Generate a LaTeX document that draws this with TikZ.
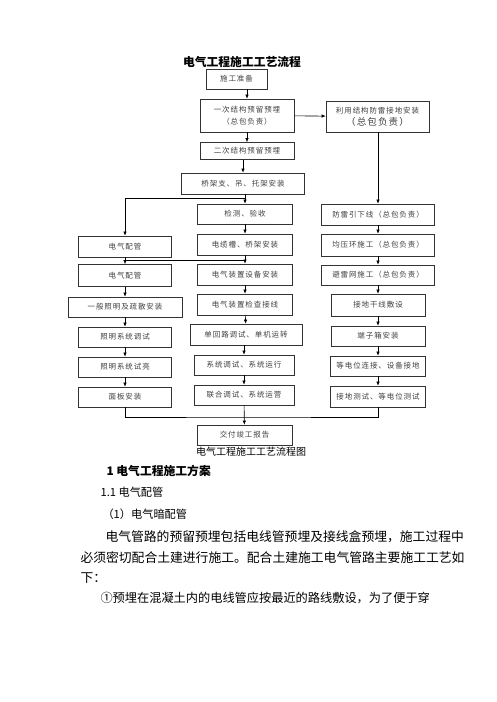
\documentclass[tikz,border=0pt]{standalone}
\usepackage{fontspec}
\setmainfont{Noto Sans CJK SC}
\newfontfamily\boxfont[LetterSpace=12]{Noto Sans CJK SC}
\usetikzlibrary{arrows.meta}
\begin{document}
\begin{tikzpicture}[x=1pt,y=-1pt,
    box/.style={draw=black!80,line width=0.7pt,inner sep=0,minimum height=20pt,align=center,
      text=black!75,font=\boxfont\fontsize{7.5}{12}\selectfont},
    arr/.style={-{Latex[length=4pt,width=3.5pt]},line width=0.6pt}]
    \useasboundingbox (0,0) rectangle (496,702);
    \node[font=\bfseries\fontsize{11.8}{14}\selectfont] (title) at (242,62) {电气工程施工工艺流程};
    % middle column
    \node[box,minimum width=61pt] at (236.5,79) (prep) {施工准备};
    \node[box,minimum width=94pt,minimum height=33pt] at (247,115.5) (pre1) {一次结构预留预埋\\（总包负责）};
    \node[box,minimum width=94pt,minimum height=17pt] at (247,151) (pre2) {二次结构预留预埋};
    \node[box,minimum width=123pt,minimum height=21pt] at (243,183.5) (tray) {桥架支、吊、托架安装};
    \node[box,minimum width=95pt] at (245,214) (check) {检测、验收};
    \node[box,minimum width=95pt,minimum height=21pt] at (245,244.5) (cable) {电缆槽、桥架安装};
    \node[box,minimum width=95pt,minimum height=21pt] at (245,274.5) (dev) {电气装置设备安装};
    \node[box,minimum width=95pt,minimum height=21pt] at (245,304.5) (ins) {电气装置检查接线};
    \node[box,minimum width=112pt,minimum height=21pt] at (246,334.5) (single) {单回路调试、单机运转};
    \node[box,minimum width=100pt] at (244,365) (sys) {系统调试、系统运行};
    \node[box,minimum width=100pt] at (244,395) (joint) {联合调试、系统运营};
    \node[box,minimum width=95pt] at (244.5,435) (deliver) {交付竣工报告};
    % left column
    \node[box,minimum width=93pt,minimum height=21pt] at (125,246.5) (pipe1) {电气配管};
    \node[box,minimum width=93pt,minimum height=22pt] at (125,275.5) (pipe2) {电气配管};
    \node[box,minimum width=114pt] at (125,307) (light) {一般照明及疏散安装};
    \node[box,minimum width=93pt] at (125,337) (ltest) {照明系统调试};
    \node[box,minimum width=93pt] at (125,367) (ltry) {照明系统试亮};
    \node[box,minimum width=93pt] at (125,397) (panel) {面板安装};
    % right column
    \node[box,minimum width=103pt,minimum height=31pt] at (377.5,116.5) (lp) {利用结构防雷接地安装\\{\fontsize{9.5}{12}\selectfont （总包负责）}};
    \node[box,minimum width=113pt,minimum height=21pt] at (378,214.5) (down) {防雷引下线（总包负责）};
    \node[box,minimum width=113pt,minimum height=22pt] at (378,245) (ring) {均压环施工（总包负责）};
    \node[box,minimum width=113pt] at (378,275) (net) {避雷网施工（总包负责）};
    \node[box,minimum width=94pt,minimum height=22pt] at (378,305) (trunk) {接地干线敷设};
    \node[box,minimum width=94pt] at (378,336) (term) {端子箱安装};
    \node[box,minimum width=95pt] at (378,366) (equi) {等电位连接、设备接地};
    \node[box,minimum width=95pt,minimum height=21pt] at (378,396.5) (gtest) {接地测试、等电位测试};
    % connectors
    \coordinate (j1) at (245,198);
    \coordinate (j2) at (245,260);
    \coordinate (j3) at (245,417);
    \draw[arr] (pre1.north |- prep.south) -- (pre1.north);
    \draw[arr] (pre1) -- (pre2);
    \draw[arr] (pre1) -- (lp);
    \draw[arr] (tray.south -| check.north) -- (check);
    \draw[arr] (pre2.south -| tray.north) -- (tray.north);
    \draw[arr] (j1) -| (pipe1);
    \draw[arr] (check) -- (cable);
    \draw[arr] (cable) -- (dev);
    \draw (pipe1.south) |- (j2);
    \draw[arr] (pipe1) -- (pipe2);
    \draw[arr] (pipe2) -- (light);
    \draw[arr] (light) -- (ltest);
    \draw[arr] (ltest) -- (ltry);
    \draw[arr] (ltry) -- (panel);
    \draw[arr] (dev) -- (ins);
    \draw[arr] (ins) -- (single);
    \draw[arr] (single.south -| sys.north) -- (sys);
    \draw[arr] (sys) -- (joint);
    \draw[arr] (joint) -- (deliver);
    \draw (panel) |- (j3) -| (gtest);
    \draw[arr] (lp.south -| down.north) -- (down);
    \draw[arr] (down) -- (ring);
    \draw[arr] (ring) -- (net);
    \draw[arr] (net) -- (trunk);
    \draw[arr] (trunk) -- (term);
    \draw[arr] (term) -- (equi);
    \draw[arr] (equi) -- (gtest);
    \node[font=\fontsize{10}{12}\selectfont] at (251,452) (cap) {电气工程施工工艺流程图};
    % text below
    \node[anchor=west,font=\bfseries\fontsize{11.8}{14}\selectfont] at (103,471) (sec) {1 电气工程施工方案};
    \node[anchor=west,font=\fontsize{11.2}{14}\selectfont] at (97,492) (sub1) {1.1 电气配管};
    \node[anchor=west,font=\fontsize{11.2}{14}\selectfont] at (99,514) (sub2) {（1）电气暗配管};
    \node[anchor=west,font=\fontsize{12.8}{15}\selectfont] at (102,537) (p1) {电气管路的预留预埋包括电线管预埋及接线盒预埋，施工过程中};
    \node[anchor=west,font=\fontsize{12.8}{15}\selectfont] at (77,558) (p2) {必须密切配合土建进行施工。配合土建施工电气管路主要施工工艺如};
    \node[anchor=west,font=\fontsize{12.8}{15}\selectfont] at (77,578) (p3) {下：};
    \node[anchor=west,font=\fontsize{12.2}{15}\selectfont] at (97,598) (p4) {①预埋在混凝土内的电线管应按最近的路线敷设，为了便于穿};
\end{tikzpicture}
\end{document}
